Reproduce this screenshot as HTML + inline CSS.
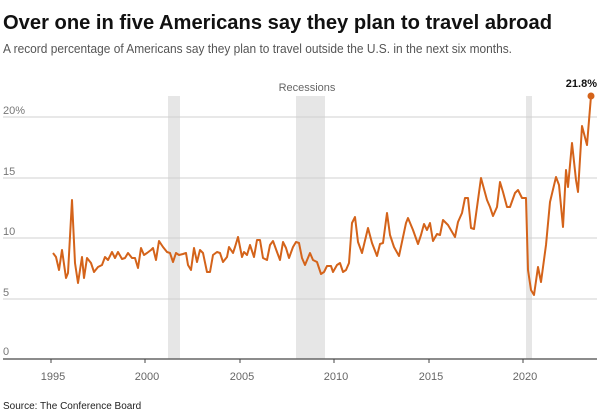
<!DOCTYPE html>
<html><head><style>
html,body{margin:0;padding:0;background:#fff;}
svg{display:block;font-family:"Liberation Sans",sans-serif;}
</style></head><body>
<svg width="600" height="414" viewBox="0 0 600 414">
<text x="3" y="29" font-size="20" font-weight="bold" fill="#111" textLength="549" lengthAdjust="spacingAndGlyphs">Over one in five Americans say they plan to travel abroad</text>
<text x="3" y="53" font-size="12.5" fill="#555" textLength="509" lengthAdjust="spacingAndGlyphs">A record percentage of Americans say they plan to travel outside the U.S. in the next six months.</text>
<rect x="168" y="96" width="12" height="263" fill="#e6e6e6"/>
<rect x="296" y="96" width="29" height="263" fill="#e6e6e6"/>
<rect x="526" y="96" width="6" height="263" fill="#e6e6e6"/>
<text x="307" y="91" font-size="11" fill="#666" text-anchor="middle">Recessions</text>
<g stroke="#d0d0d0" stroke-width="1">
<line x1="3" y1="117" x2="597" y2="117"/>
<line x1="3" y1="178" x2="597" y2="178"/>
<line x1="3" y1="238" x2="597" y2="238"/>
<line x1="3" y1="299" x2="597" y2="299"/>
</g>
<g font-size="11" fill="#777">
<text x="3" y="114">20%</text>
<text x="3" y="175">15</text>
<text x="3" y="235">10</text>
<text x="3" y="296">5</text>
<text x="3" y="355">0</text>
</g>
<line x1="3" y1="359" x2="597" y2="359" stroke="#666" stroke-width="1.5"/>
<g stroke="#444" stroke-width="1">
<line x1="51" y1="359" x2="51" y2="363"/>
<line x1="145" y1="359" x2="145" y2="363"/>
<line x1="240" y1="359" x2="240" y2="363"/>
<line x1="334" y1="359" x2="334" y2="363"/>
<line x1="429" y1="359" x2="429" y2="363"/>
<line x1="523" y1="359" x2="523" y2="363"/>
</g>
<g font-size="11" fill="#666" text-anchor="middle">
<text x="53" y="380">1995</text>
<text x="147" y="380">2000</text>
<text x="242" y="380">2005</text>
<text x="336" y="380">2010</text>
<text x="431" y="380">2015</text>
<text x="525" y="380">2020</text>
</g>
<polyline fill="none" stroke="#d4631a" stroke-width="2" stroke-linejoin="round" points="53,253 56,257 59,270 62,250 66,278 68,273 72,200 75,263 78,283 82,257 84,278 87,258 91,263 94,272 98,267 102,265 105,257 108,260 112,252 115,258 118,252 122,259 125,258 128,253 132,258 135,258 138,268 141,248 144,255 147,253 151,250 153,248 156,260 159,241 163,247 167,252 170,253 173,262 176,253 179,255 183,254 186,253 188,265 191,270 194,248 197,262 200,250 203,253 207,272 210,272 213,255 217,252 220,253 223,262 227,257 229,247 233,253 235,247 238,237 242,257 244,252 247,255 250,245 254,257 257,240 260,240 263,258 267,260 270,245 273,241 277,252 280,260 283,242 286,248 289,258 293,247 296,242 299,243 302,258 305,265 310,253 313,260 317,262 321,274 324,272 327,266 331,266 333,272 337,265 340,263 343,272 346,270 349,263 352,223 355,217 358,242 362,253 368,228 372,243 377,256 380,244 383,243 387,213 390,235 394,247 399,256 406,223 408,218 413,230 418,244 421,235 424,224 427,230 430,223 433,241 437,234 440,235 443,220 448,225 455,237 458,222 462,213 465,198 468,198 471,228 474,229 481,178 487,200 490,207 493,216 497,207 500,182 503,192 507,207 510,207 515,193 518,190 522,198 526,198 528,270 531,290 534,295 538,267 541,282 546,245 550,202 556,177 559,185 563,227 566,170 568,187 572,143 576,180 578,192 582,126 587,145 591,96"/>
<circle cx="591" cy="96" r="3.5" fill="#d4631a"/>
<text x="597" y="87" font-size="11" font-weight="bold" fill="#111" text-anchor="end">21.8%</text>
<text x="3" y="409" font-size="10" fill="#222">Source: The Conference Board</text>
</svg>
</body></html>
